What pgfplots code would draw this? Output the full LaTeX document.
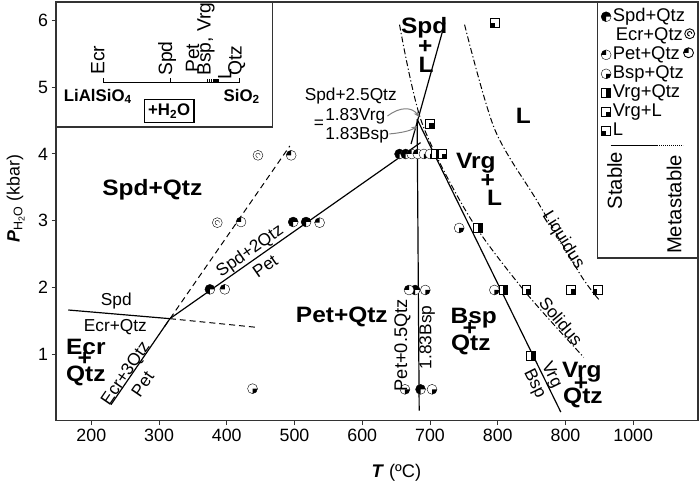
\documentclass[border=0pt]{standalone}
\usepackage{fontspec}
\setmainfont{Liberation Sans}
\newfontfamily\wideA[FakeStretch=1.1]{Liberation Sans}
\usepackage{pgfplots}
\pgfplotsset{compat=1.18}
\usetikzlibrary{arrows.meta}

% circle marks with a filled sector
\newcommand{\circmark}[2]{%
  \pgfsetfillcolor{white}%
  \pgfpathcircle{\pgfpointorigin}{\pgfplotmarksize}\pgfusepath{fill}%
  \pgfsetfillcolor{black}%
  \pgfpathmoveto{\pgfpointorigin}%
  \pgfpathlineto{\pgfpointpolar{#1}{\pgfplotmarksize}}%
  \pgfpatharc{#1}{#2}{\pgfplotmarksize}%
  \pgfpathclose\pgfusepath{fill}%
  \pgfpathcircle{\pgfpointorigin}{\pgfplotmarksize}\pgfusepath{stroke}}
\pgfdeclareplotmark{spd}{\circmark{0}{270}}
\pgfdeclareplotmark{pet}{\circmark{90}{180}}
\pgfdeclareplotmark{bsp}{\circmark{-90}{0}}
\pgfdeclareplotmark{ecr}{%
  \pgfsetfillcolor{white}%
  \pgfpathcircle{\pgfpointorigin}{\pgfplotmarksize}\pgfusepath{fill,stroke}%
  \pgfpathmoveto{\pgfpointpolar{0}{0.45\pgfplotmarksize}}%
  \pgfpatharc{0}{270}{0.45\pgfplotmarksize}\pgfusepath{stroke}}
% square marks with a filled part
\newcommand{\sqmark}[4]{%
  \pgfsetfillcolor{white}%
  \pgfpathrectanglecorners{\pgfpoint{-0.9\pgfplotmarksize}{-0.9\pgfplotmarksize}}{\pgfpoint{0.9\pgfplotmarksize}{0.9\pgfplotmarksize}}%
  \pgfusepath{fill}%
  \pgfsetfillcolor{black}%
  \pgfpathrectanglecorners{\pgfpoint{#1\pgfplotmarksize}{#2\pgfplotmarksize}}{\pgfpoint{#3\pgfplotmarksize}{#4\pgfplotmarksize}}%
  \pgfusepath{fill}%
  \pgfpathrectanglecorners{\pgfpoint{-0.9\pgfplotmarksize}{-0.9\pgfplotmarksize}}{\pgfpoint{0.9\pgfplotmarksize}{0.9\pgfplotmarksize}}%
  \pgfusepath{stroke}}
\pgfdeclareplotmark{vqtz}{\sqmark{0}{-0.9}{0.9}{0.9}}
\pgfdeclareplotmark{vl}{\sqmark{0}{-0.9}{0.9}{0}}
\pgfdeclareplotmark{lq}{\sqmark{-0.9}{-0.9}{0}{0}}

\newcommand{\fbig}{\wideA\fontsize{22.5}{24}\selectfont\bfseries}
\newcommand{\fsml}{\fontsize{17.5}{19}\selectfont}
\newcommand{\fins}{\fontsize{19.5}{21}\selectfont}
\newcommand{\fleg}{\fontsize{18.6}{20}\selectfont}

\begin{document}
\newsavebox\ecrbox
\newsavebox\petbox
\sbox\ecrbox{\tikz[baseline=-6.5bp]{\pgfsetplotmarksize{5bp}\pgfsetlinewidth{0.9bp}\pgfuseplotmark{ecr}}}
\sbox\petbox{\tikz[baseline=-6.5bp]{\pgfsetplotmarksize{5bp}\pgfsetlinewidth{0.9bp}\pgfuseplotmark{pet}}}
\begin{tikzpicture}
\begin{axis}[
  scale only axis, width=647bp, height=422bp,
  xmin=148, xmax=1095.6, ymin=0, ymax=6.28,
  axis line style={line width=1.3bp, black!80},
  tick style={line width=1bp, black!80},
  tick align=outside, tick pos=left, major tick length=4.5bp,
  xtick={200,300,400,500,600,700,800,900,1000},
  xticklabels={200,300,400,500,600,700,800,800,1000},
  ytick={1,2,3,4,5,6},
  ticklabel style={font=\fontsize{18}{20}\selectfont},
  /pgf/number format/assume math mode=true,
  xlabel={\textbf{\textit{T}} (ºC)},
  ylabel={\textit{\textbf{P}}\textsubscript{H\textsubscript{2}O} (kbar)},
  xlabel style={at={(axis description cs:0.530,-0.125)}, anchor=center, font=\fontsize{18.5}{20}\selectfont},
  ylabel style={at={(axis description cs:-0.063,0.53)}, anchor=center, font=\fontsize{18}{20}\selectfont},
  mark size=5bp,
  every mark/.append style={solid, line width=0.9bp},
  legend image code/.code={\draw[#1] plot[only marks] coordinates {(0bp,0bp)};},
  legend style={at={(axis description cs:0.8485,0.988)}, anchor=north west,
    draw=none, fill=none, inner sep=0pt, row sep=0bp, column sep=1.5bp,
    font=\fleg,
    nodes={font=\fleg, inner sep=0.15bp, text height=13.9bp, text depth=5bp}},
  legend cell align=left,
]
% stable reactions
\addplot[line width=1.2bp, forget plot] coordinates {(166,1.66) (316,1.53)};
\addplot[line width=1.2bp, forget plot] coordinates {(229,0.24) (316,1.53)};
\addplot[line width=1.2bp, forget plot] coordinates {(316,1.53) (686,4.17)};
\addplot[line width=1.2bp, forget plot] coordinates {(684,0.15) (681,4.52)};
\addplot[line width=1.2bp, forget plot] coordinates {(722,5.97) (672,4.15)};
\addplot[line width=1.2bp, forget plot] coordinates {(681,4.52) (893,0.13)};
% metastable extensions
\addplot[line width=1bp, dash pattern=on 6bp off 4bp, forget plot] coordinates {(316,1.53) (444,1.40)};
\addplot[line width=1bp, dash pattern=on 6bp off 4bp, forget plot] coordinates {(308,1.41) (493,4.12)};
% solidus and liquidus
\addplot[line width=1bp, dash pattern=on 6bp off 2.5bp on 1.2bp off 2.5bp, smooth, forget plot]
  coordinates {(655,5.94) (688,4.47) (758,3.06) (839,1.95) (927,0.95)};
\addplot[line width=1bp, dash pattern=on 6bp off 2.5bp on 1.2bp off 2.5bp, smooth, forget plot]
  coordinates {(751,5.94) (795.5,4.37) (859,3.28) (922,2.19) (949,1.82)};
% experiments
\addplot[only marks, mark=spd, forget plot] coordinates {(655,4.0) (664,4.0) (498,2.98) (517,2.98) (375,1.97) (678,1.96) (686,0.47)};
\addplot[only marks, mark=ecr, forget plot] coordinates {(446,3.98) (386,2.97)};
\addplot[only marks, mark=pet, forget plot] coordinates {(495,3.98) (421,2.98) (537,2.97) (397,1.97) (673,4.0) (682,4.0) (669,1.96)};
\addplot[only marks, mark=bsp, forget plot] coordinates {(691,4.0) (700,4.0) (743,2.89) (693,1.96) (795,1.96) (663,0.47) (703,0.47) (438,0.48)};
\addplot[only marks, mark=vqtz, forget plot] coordinates {(709,4.0) (771,2.89) (808,1.96) (849,0.98)};
\addplot[only marks, mark=vl, forget plot] coordinates {(718,4.0) (842,1.97) (908,1.97) (699,4.46)};
\addplot[only marks, mark=lq, forget plot] coordinates {(947,1.97) (796,5.97)};
% legend
\addlegendimage{mark=spd, mark size=5bp}
\addlegendentry{Spd+Qtz}
\addlegendimage{empty legend}
\addlegendentry{\hspace{3bp}Ecr+Qtz\hspace{1.5bp}\usebox\ecrbox}
\addlegendimage{mark=pet, mark size=5bp}
\addlegendentry{Pet+Qtz\hspace{3.3bp}\usebox\petbox}
\addlegendimage{mark=bsp, mark size=5bp}
\addlegendentry{Bsp+Qtz}
\addlegendimage{mark=vqtz, mark size=5bp}
\addlegendentry{Vrg+Qtz}
\addlegendimage{mark=vl, mark size=5bp}
\addlegendentry{Vrg+L}
\addlegendimage{mark=lq, mark size=5bp}
\addlegendentry{L}
\end{axis}

\begin{scope}[shift={(current axis.north west)}, xshift=-51bp, yshift=2bp, x=1bp, y=-1bp]
% inset
\draw[line width=1.2bp, black!80] (51,128) -- (269,128) -- (269,2);
\draw[line width=0.9bp] (98.3,79) -- (98.3,83.5) -- (236,83.5) -- (236,79);
\draw[line width=0.9bp] (166.7,79) -- (166.7,83.5);
\draw[line width=0.7bp] (203,80) -- (203,83.5) (205.5,80) -- (205.5,83.5) (207.5,80) -- (207.5,83.5);
\fill (209,79.5) rectangle (215,84);
\node[rotate=90, anchor=west, inner sep=0.5bp, font=\fins] at (93,76) {Ecr};
\node[rotate=90, anchor=west, inner sep=0.5bp, font=\fins] at (163,77) {Spd};
\node[rotate=90, anchor=west, inner sep=0.5bp, font=\fins] at (188.5,74) {Pet};
\node[rotate=90, anchor=west, inner sep=0.5bp, font=\fins] at (202,77) {Bsp, Vrg};
\node[rotate=90, anchor=west, inner sep=0.5bp, font=\fins] at (221,81) {L};
\node[rotate=90, anchor=west, inner sep=0.5bp, font=\fins] at (233,77) {Qtz};
\node[font=\fontsize{17}{18}\selectfont\bfseries] at (93,97) {LiAlSiO\textsubscript{4}};
\node[font=\fontsize{17}{18}\selectfont\bfseries] at (238,97) {SiO\textsubscript{2}};
\draw[line width=1.1bp] (140,100) rectangle (190,123.3);
\node[font=\fontsize{17}{18}\selectfont\bfseries] at (165,112) {+H\textsubscript{2}O};
% legend frame and line styles
\draw[line width=1.2bp, black!80] (597,2) -- (597,260) -- (698,260);
\draw[line width=1.2bp] (610,146.7) -- (657,146.7);
\draw[line width=1bp, dash pattern=on 1bp off 1bp] (657,146.7) -- (683,146.7);
\node[rotate=90, font=\fontsize{20.5}{22}\selectfont] at (614,182) {Stable};
\node[rotate=90, font=\fontsize{20.5}{22}\selectfont] at (674,206) {Metastable};
% field labels
\node[anchor=base, font=\fbig] at (148,197.5) {Spd+Qtz};
\node[anchor=base, font=\fbig] at (339,325) {Pet+Qtz};
\node[anchor=base, font=\fbig] at (81,357) {Ecr};
\node[font=\fbig] at (80,362) {+};
\node[anchor=base, font=\fbig] at (81,385) {Qtz};
\node[anchor=base, font=\fbig] at (472,326) {Bsp};
\node[font=\fbig] at (468,332) {+};
\node[anchor=base, font=\fbig] at (469,353) {Qtz};
\node[anchor=base, font=\fbig] at (581,380) {Vrg};
\node[font=\fbig] at (580,387) {+};
\node[anchor=base, font=\fbig] at (582,407) {Qtz};
\node[anchor=base, font=\fbig] at (474,170) {Vrg};
\node[font=\fbig] at (486,182) {+};
\node[anchor=base, font=\fbig] at (493,206.7) {L};
\node[anchor=base, font=\fbig] at (422,33.3) {Spd};
\node[font=\fbig] at (423,47) {+};
\node[anchor=base, font=\fbig] at (424,73.3) {L};
\node[anchor=base, font=\fbig] at (522,124) {L};
% reaction labels
\node[font=\fsml] at (111.7,303.3) {Spd};
\node[font=\fsml] at (110.7,329.3) {Ecr+Qtz};
\node[font=\fsml, rotate=55.6] at (121.7,376.7) {Ecr+3Qtz};
\node[font=\fsml, rotate=55.6] at (138.3,387.3) {Pet};
\node[font=\fsml, rotate=35] at (246.7,253.3) {Spd+2Qtz};
\node[font=\fsml, rotate=35] at (261.7,268.3) {Pet};
\node[font=\fontsize{18.5}{20}\selectfont, rotate=90] at (400,348) {Pet+0.5Qtz};
\node[font=\fsml, rotate=90] at (425,340) {1.83Bsp};
\node[font=\fsml, rotate=-63.7] at (550,378) {Vrg};
\node[font=\fsml, rotate=-63.7] at (533,387) {Bsp};
\node[font=\fsml, rotate=-50] at (560,324) {Solidus};
\node[font=\fsml, rotate=-58] at (562,242) {Liquidus};
\node[font=\fsml] at (348,97) {Spd+2.5Qtz};
\node[font=\fsml] at (316,125) {=};
\node[font=\fsml] at (352.5,117) {1.83Vrg};
\node[font=\fsml] at (354.5,136) {1.83Bsp};
\draw[gray, line width=1bp, -{Stealth[length=6bp,width=5bp]}] (385,117) .. controls (398,107) and (410,108) .. (417,118);
\draw[gray, line width=1bp, -{Stealth[length=6bp,width=5bp]}] (387,135) .. controls (398,134) and (408,132) .. (415,127);
\end{scope}
\pgfresetboundingbox
\path[use as bounding box] ([xshift=-51bp,yshift=2bp]current axis.north west) rectangle ([xshift=649bp,yshift=-487bp]current axis.north west);
\end{tikzpicture}
\end{document}
